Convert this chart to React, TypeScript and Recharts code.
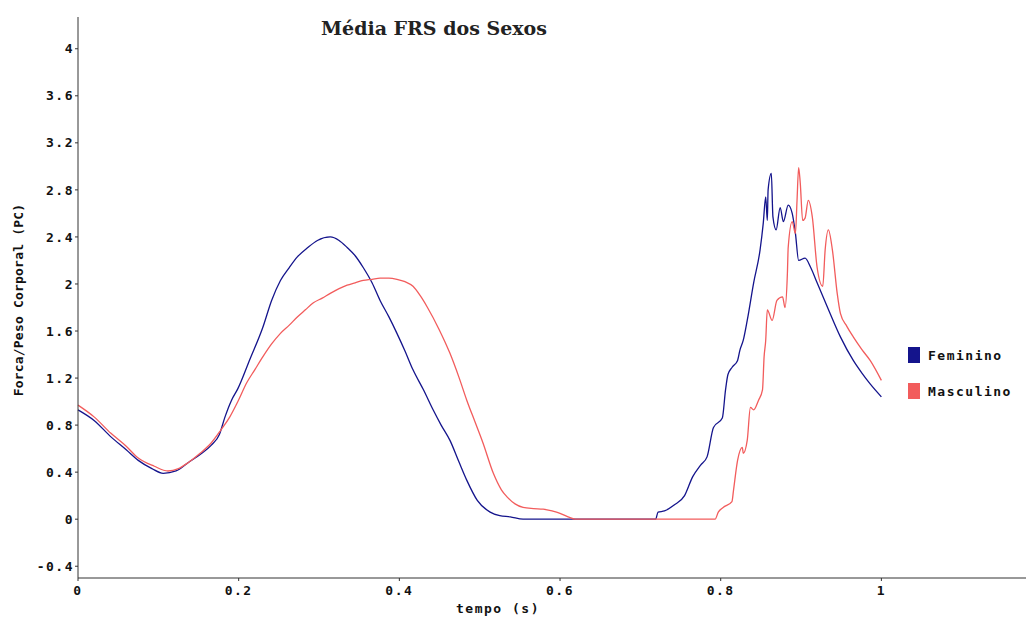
import React from 'react';
import { LineChart, Line, XAxis, YAxis } from 'recharts';

// tempo (s) e força normalizada pelo peso corporal — média feminina
const femTime = [
  0, 0.02, 0.041, 0.06, 0.075, 0.092, 0.106, 0.122, 0.137, 0.152, 0.166, 0.176, 0.183, 0.191, 0.199, 0.214, 0.23,
  0.241, 0.252, 0.263, 0.273, 0.286, 0.298, 0.314, 0.325, 0.335, 0.345, 0.355, 0.366, 0.376, 0.387, 0.397, 0.407,
  0.417, 0.43, 0.442, 0.452, 0.463, 0.474, 0.484, 0.497, 0.513, 0.525, 0.538, 0.554, 0.719, 0.722,
  0.73, 0.742, 0.755, 0.765, 0.775, 0.783, 0.791, 0.802, 0.806, 0.809, 0.814, 0.821, 0.824, 0.828,
  0.833, 0.841, 0.849, 0.853, 0.856, 0.858, 0.859, 0.863, 0.865, 0.869, 0.874, 0.878, 0.884, 0.889,
  0.893, 0.897, 0.905, 0.912, 0.92, 0.933, 0.949, 0.965, 0.976, 0.986, 1,
];
const femForce = [
  0.93, 0.84, 0.7, 0.59, 0.5, 0.43, 0.39, 0.41, 0.48, 0.55, 0.63, 0.72, 0.87, 1.01, 1.11, 1.36, 1.63,
  1.86, 2.03, 2.14, 2.23, 2.31, 2.37, 2.4, 2.37, 2.31, 2.24, 2.14, 2.01, 1.86, 1.72, 1.58, 1.43,
  1.27, 1.1, 0.93, 0.8, 0.67, 0.49, 0.33, 0.16, 0.06, 0.03, 0.02, 0, 0, 0.06,
  0.07, 0.12, 0.2, 0.36, 0.46, 0.53, 0.78, 0.86, 1.1, 1.23, 1.29, 1.35, 1.44, 1.52,
  1.69, 2.01, 2.29, 2.52, 2.74, 2.54, 2.8, 2.94, 2.57, 2.46, 2.65, 2.53, 2.67, 2.6,
  2.43, 2.2, 2.22, 2.14, 2.01, 1.8, 1.55, 1.35, 1.24, 1.15, 1.04,
];

// média masculina
const mascTime = [
  0, 0.02, 0.041, 0.06, 0.075, 0.095, 0.112, 0.125, 0.137, 0.152, 0.166, 0.178, 0.189, 0.199, 0.21, 0.22, 0.23,
  0.241, 0.252, 0.263, 0.273, 0.283, 0.293, 0.304, 0.314, 0.325, 0.335, 0.345, 0.355, 0.366, 0.376, 0.387, 0.397,
  0.407, 0.417, 0.426, 0.435, 0.449, 0.463, 0.474, 0.484, 0.494, 0.504, 0.517, 0.527, 0.534, 0.544, 0.554, 0.567,
  0.579, 0.59, 0.6, 0.61, 0.619,
  0.793, 0.797, 0.803, 0.814, 0.816, 0.821, 0.827, 0.828, 0.833, 0.837, 0.841, 0.847, 0.852, 0.854,
  0.856, 0.858, 0.864, 0.87, 0.877, 0.88, 0.883, 0.884, 0.889, 0.893, 0.895, 0.897, 0.899, 0.902,
  0.905, 0.909, 0.914, 0.92, 0.927, 0.93, 0.934, 0.939, 0.945, 0.949, 0.957, 0.965, 0.976, 0.986, 1,
];
const mascForce = [
  0.97, 0.87, 0.73, 0.62, 0.52, 0.45, 0.41, 0.43, 0.48, 0.56, 0.65, 0.76, 0.87, 1, 1.16, 1.27, 1.38,
  1.49, 1.58, 1.65, 1.72, 1.78, 1.84, 1.88, 1.92, 1.96, 1.99, 2.01, 2.03, 2.04, 2.05, 2.05, 2.04,
  2.02, 1.98, 1.9, 1.8, 1.62, 1.41, 1.21, 1.01, 0.83, 0.65, 0.39, 0.25, 0.19, 0.13, 0.1, 0.09,
  0.085, 0.07, 0.05, 0.02, 0,
  0, 0.06, 0.1, 0.15, 0.25, 0.5, 0.61, 0.56, 0.67, 0.95, 0.93, 1.01, 1.1, 1.38,
  1.52, 1.78, 1.69, 1.86, 1.89, 1.8, 2.09, 2.31, 2.53, 2.43, 2.71, 2.99, 2.86, 2.54,
  2.56, 2.71, 2.57, 2.14, 1.98, 2.29, 2.46, 2.29, 1.92, 1.75, 1.64, 1.55, 1.44, 1.35, 1.18,
];

const xTicks = [0, 0.2, 0.4, 0.6, 0.8, 1];
const yTicks = [-0.4, 0, 0.4, 0.8, 1.2, 1.6, 2, 2.4, 2.8, 3.2, 3.6, 4];

const seriesNames = ['Feminino', 'Masculino'];
const seriesColors = ['#14148c', '#f25c5c'];

const femData = femTime.map((t, i) => ({ t, v: femForce[i] }));
const mascData = mascTime.map((t, i) => ({ t, v: mascForce[i] }));

const monoFont = '"DejaVu Sans Mono", monospace';
const tickStyle = { fontFamily: monoFont, fontSize: 13, fontWeight: 'bold', fill: '#111', letterSpacing: 1.5 };

export default function App() {
  return (
    <div style={{ position: 'fixed', left: 0, top: 0, width: 1026, height: 617, background: '#fff', overflow: 'hidden' }}>
      <LineChart width={1026} height={617} data={femData} margin={{ top: 17, right: 0, left: 0, bottom: 0 }}>
        <XAxis
          type="number"
          dataKey="t"
          domain={[0, 1.18]}
          ticks={xTicks}
          height={39}
          tickSize={3}
          tickMargin={5}
          stroke="#333"
          tick={tickStyle}
        />
        <YAxis
          type="number"
          domain={[-0.5, 4.27]}
          ticks={yTicks}
          width={78}
          tickSize={3}
          tickMargin={1}
          stroke="#333"
          tick={tickStyle}
          allowDataOverflow
        />
        <Line data={femData} dataKey="v" type="monotone" stroke={seriesColors[0]} strokeWidth={1.3} dot={false} isAnimationActive={false} />
        <Line data={mascData} dataKey="v" type="monotone" stroke={seriesColors[1]} strokeWidth={1.3} dot={false} isAnimationActive={false} />
      </LineChart>

      {/* título */}
      <div style={{ position: 'absolute', left: 0, width: 868, top: 17, textAlign: 'center', fontFamily: '"DejaVu Serif", serif', fontSize: 19, fontWeight: 'bold', color: '#222' }}>
        Média FRS dos Sexos
      </div>

      {/* rótulos dos eixos */}
      <div style={{ position: 'absolute', left: 18, top: 300, transform: 'translate(-50%, -50%) rotate(-90deg)', whiteSpace: 'nowrap', fontFamily: monoFont, fontSize: 13, fontWeight: 'bold', letterSpacing: 0.2, color: '#111' }}>
        Forca/Peso Corporal (PC)
      </div>
      <div style={{ position: 'absolute', left: 498, top: 601, transform: 'translateX(-50%)', whiteSpace: 'nowrap', fontFamily: monoFont, fontSize: 13, fontWeight: 'bold', letterSpacing: 1.5, color: '#111', lineHeight: '16px' }}>
        tempo (s)
      </div>

      {/* legenda */}
      {seriesNames.map((name, i) => (
        <div key={name} style={{ position: 'absolute', left: 908, top: 347 + i * 36, display: 'flex', alignItems: 'center', height: 16 }}>
          <span style={{ display: 'inline-block', width: 12, height: 16, background: seriesColors[i] }} />
          <span style={{ marginLeft: 8, fontFamily: monoFont, fontSize: 13, fontWeight: 'bold', letterSpacing: 1.5, color: '#111' }}>{name}</span>
        </div>
      ))}
    </div>
  );
}
